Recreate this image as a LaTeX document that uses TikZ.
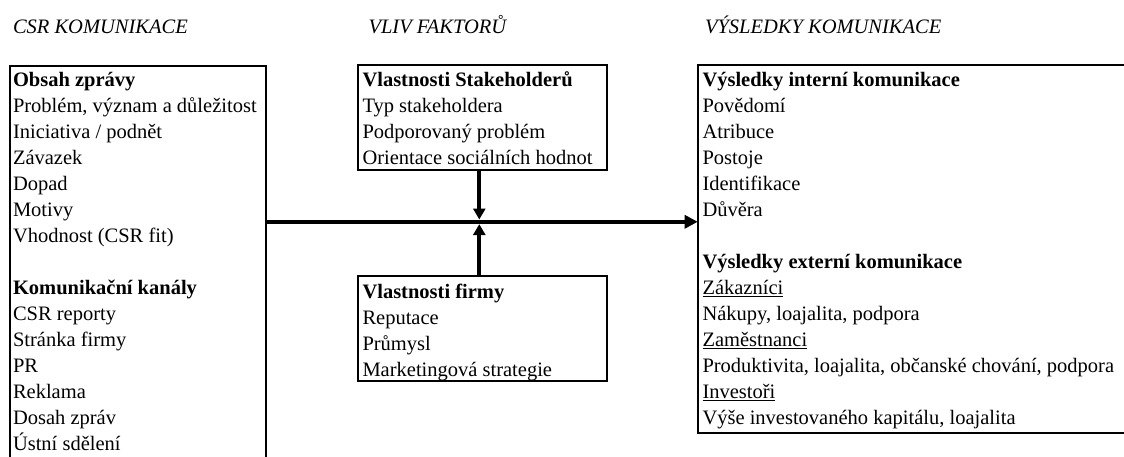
\documentclass[tikz,border=0pt]{standalone}
\usepackage{fontspec}
\setmainfont{Liberation Serif}
\usetikzlibrary{arrows.meta,fit}
\begin{document}
\begin{tikzpicture}[x=1pt,y=-1pt,
  box/.style={draw,line width=2pt,inner sep=0pt,outer sep=0pt},
  txt/.style={anchor=base west,inner sep=0pt,outer sep=0pt,font=\fontsize{20.5}{25}\selectfont},
  ttl/.style={txt,font=\fontsize{20.5}{25}\selectfont\itshape},
  mainarrow/.style={line width=4.5pt,-{Triangle[length=13pt,width=13pt]}},
  sidearrow/.style={line width=4pt,-{Triangle[length=11pt,width=12pt]},shorten >=2.3pt}]
\useasboundingbox (0,0) rectangle (1124,456);
\clip (0,0) rectangle (1124,456);
% titles
\node[ttl] (t1) at (13,33) {CSR KOMUNIKACE};
\node[ttl] (t2) at (368.5,33) {VLIV FAKTORŮ};
\node[ttl] (t3) at (705,33) {VÝSLEDKY KOMUNIKACE};
% boxes
\node[box,fit={(10.3,65.5) (266,480)}] (csr) {};
\node[box,fit={(358,65) (606.7,169.5)}] (stake) {};
\node[box,fit={(358,276) (606.7,380.5)}] (firm) {};
\node[box,fit={(697.7,65) (1140,432.8)}] (out) {};
% left box text
\foreach \t [count=\i from 0] in {{\textbf{Obsah zprávy}},{Problém, význam a důležitost},{Iniciativa / podnět},{Závazek},{Dopad},{Motivy},{Vhodnost (CSR fit)}}
  \node[txt] (a\i) at (13,{86.7+\i*26}) {\t};
\foreach \t [count=\i from 8] in {{\textbf{Komunikační kanály}},{CSR reporty},{Stránka firmy},{PR},{Reklama},{Dosah zpráv},{Ústní sdělení}}
  \node[txt] (a\i) at (13,{86.7+\i*26}) {\t};
% stakeholder box text
\foreach \t [count=\i from 0] in {{\textbf{Vlastnosti Stakeholderů}},{Typ stakeholdera},{Podporovaný problém},{Orientace sociálních hodnot}}
  \node[txt] (b\i) at (362.5,{86.7+\i*26}) {\t};
% firm box text
\foreach \t [count=\i from 0] in {{\textbf{Vlastnosti firmy}},{Reputace},{Průmysl},{Marketingová strategie}}
  \node[txt] (c\i) at (362.5,{298.3+\i*26}) {\t};
% right box text
\foreach \t [count=\i from 0] in {{\textbf{Výsledky interní komunikace}},{Povědomí},{Atribuce},{Postoje},{Identifikace},{Důvěra}}
  \node[txt] (d\i) at (702.5,{86.7+\i*26}) {\t};
\foreach \t [count=\i from 7] in {{\textbf{Výsledky externí komunikace}},{\underline{Zákazníci}},{Nákupy, loajalita, podpora},{\underline{Zaměstnanci}},{Produktivita, loajalita, občanské chování, podpora},{\underline{Investoři}},{Výše investovaného kapitálu, loajalita}}
  \node[txt] (d\i) at (702.5,{86.7+\i*26}) {\t};
% connectors
\coordinate (j) at (479.3,221.8);
\draw[mainarrow] (csr.east |- j) -- (out.west |- j);
\draw[sidearrow] (stake.south -| j) -- (j);
\draw[sidearrow] (firm.north -| j) -- (j);
\end{tikzpicture}
\end{document}
